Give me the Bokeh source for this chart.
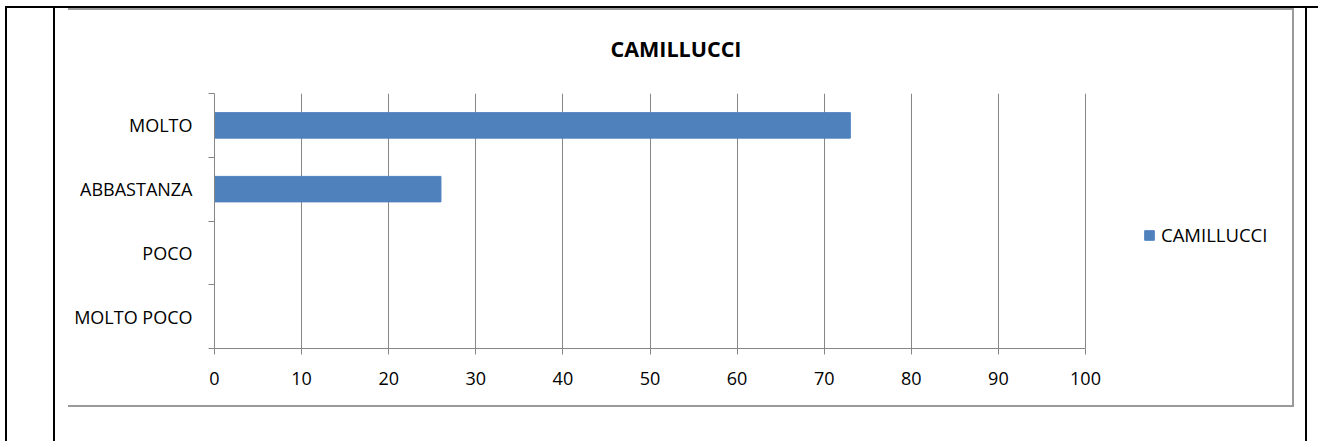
from bokeh.plotting import figure
from bokeh.models import Range1d, FixedTicker, Legend, LegendItem
from bokeh.embed import file_html
from bokeh.resources import INLINE

# ---- data ----
categories = ["MOLTO POCO", "POCO", "ABBASTANZA", "MOLTO"]   # bottom -> top
values = [0, 0, 26, 73]
series_name = "CAMILLUCCI"
title_text = "CAMILLUCCI"
x_ticks = [0, 10, 20, 30, 40, 50, 60, 70, 80, 90, 100]
x_max = 100

FONT = "Open Sans"
GRAY = "#868686"
BAR = "#4F81BD"

# layout (pixels): axis 0 at 214, 100 at 1085; frame extended right to hold the legend
FRAME_LEFT, AXIS_END, FRAME_RIGHT = 214, 1085, 1280
x_range_end = x_max * (FRAME_RIGHT - FRAME_LEFT) / (AXIS_END - FRAME_LEFT)

ypos = [i + 0.5 for i in range(len(categories))]
boundaries = [i for i in range(len(categories) + 1)]

p = figure(width=1318, height=441, output_backend="svg", toolbar_location=None,
           x_range=Range1d(0, x_range_end), y_range=Range1d(0, len(categories)),
           min_border_left=FRAME_LEFT, min_border_right=1318 - FRAME_RIGHT,
           min_border_top=93, min_border_bottom=93)
p.outline_line_color = None
p.background_fill_color = "white"
p.border_fill_color = None

r = p.hbar(y=ypos, right=values, left=0, height=0.4, fill_color=BAR, line_color=BAR)

# x axis
xa = p.xaxis[0]
xa.ticker = FixedTicker(ticks=x_ticks, minor_ticks=[])
xa.bounds = (0, x_max)
xa.axis_line_color = GRAY
xa.major_tick_line_color = GRAY
xa.major_tick_in = 0
xa.major_tick_out = 6
xa.minor_tick_line_color = None
xa.major_label_text_font = FONT
xa.major_label_text_font_size = "18px"
xa.major_label_text_color = "black"
xa.major_label_standoff = 17

# y axis
ya = p.yaxis[0]
ya.ticker = FixedTicker(ticks=ypos, minor_ticks=boundaries)
ya.major_label_overrides = {y: c for y, c in zip(ypos, categories)}
ya.axis_line_color = GRAY
ya.major_tick_line_color = None
ya.major_tick_in = 0
ya.major_tick_out = 0
ya.minor_tick_line_color = GRAY
ya.minor_tick_in = 0
ya.minor_tick_out = 6
ya.major_label_text_font = FONT
ya.major_label_text_font_size = "18px"
ya.major_label_text_color = "black"
ya.major_label_standoff = 16

p.xgrid.grid_line_color = GRAY
p.xgrid.ticker = FixedTicker(ticks=x_ticks)
p.xgrid.bounds = (0, x_max)
p.ygrid.grid_line_color = None

# title
p.title.text = title_text
p.title.text_font = FONT
p.title.text_font_style = "bold"
p.title.text_font_size = "21.5px"
p.title.text_color = "black"
p.title.align = "left"
p.title.offset = 396
p.title.standoff = 61

# legend (inside the widened frame, right of the value axis)
legend = Legend(items=[LegendItem(label=series_name, renderers=[r])], location=(929, 101),
                padding=0, margin=0, border_line_color=None, background_fill_alpha=0,
                glyph_width=12, glyph_height=12, label_standoff=6,
                label_text_font=FONT, label_text_font_size="18.5px", label_text_color="black",
                label_height=20)
p.add_layout(legend, "center")

# document / chart borders drawn as CSS backgrounds behind the transparent canvas
lines = [  # (x, y, w, h, color)
    (5, 6, 1313, 2, "#000000"),
    (5, 6, 2, 435, "#000000"),
    (53, 6, 2, 435, "#000000"),
    (1305, 6, 2, 435, "#000000"),
    (68, 8, 1226, 2, "#9A9A9A"),
    (1292, 8, 2, 399, "#9A9A9A"),
    (68, 405, 1226, 2, "#9A9A9A"),
]
p.styles = {
    "background-color": "white",
    "background-image": ", ".join(f"linear-gradient({c}, {c})" for *_, c in lines),
    "background-size": ", ".join(f"{w}px {h}px" for _, _, w, h, _ in lines),
    "background-position": ", ".join(f"{x}px {y}px" for x, y, _, _, _ in lines),
    "background-repeat": "no-repeat",
}

open("out.html", "w").write(file_html(p, INLINE))
